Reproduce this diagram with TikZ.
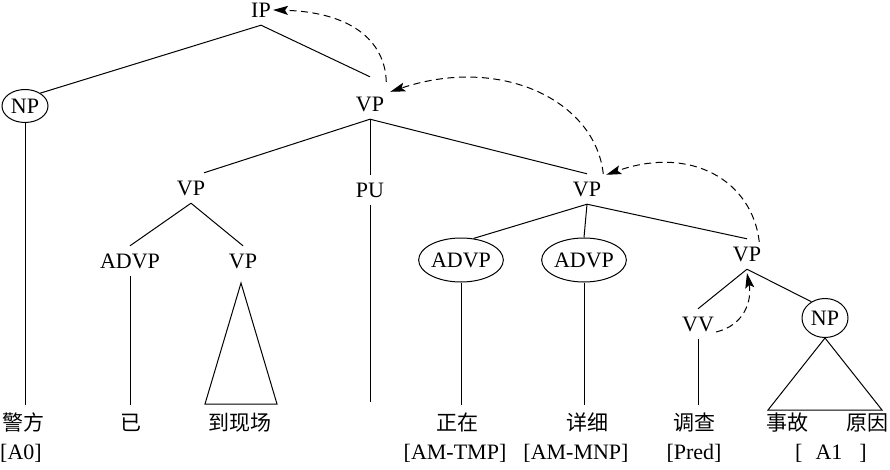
\documentclass[tikz,border=0pt]{standalone}
\usepackage{fontspec}
\setmainfont{Liberation Serif}
\newfontfamily\cjk{Noto Sans CJK SC}
\usetikzlibrary{arrows.meta,shapes.geometric}
\begin{document}
\begin{tikzpicture}[x=1pt,y=-1pt,
 cat/.style={font=\fontsize{22}{26}\selectfont, inner xsep=2pt, inner ysep=7.5pt, text height=15pt, text depth=0pt},
 ell/.style={ellipse, draw, line width=1pt, font=\fontsize{22}{26}\selectfont, inner sep=0pt, text height=15pt, text depth=0pt},
 word/.style={font=\cjk\fontsize{21}{25}\selectfont, inner xsep=0pt, inner ysep=9pt, text height=16pt, text depth=1pt},
 role/.style={font=\fontsize{22}{26}\selectfont, inner sep=0pt, text height=15pt, text depth=4pt},
 edge/.style={line width=1pt},
 mv/.style={line width=1pt, dash pattern=on 7pt off 4.5pt, -{Stealth[length=15pt,width=9pt,inset=3pt]}},
]
\useasboundingbox (0,0) rectangle (890,470);

% category nodes
\node[cat] (ip) at (261,10) {IP};
\node[ell, minimum width=46pt, minimum height=33pt] (np1) at (25,106) {NP};
\node[cat] (vp1) at (370,104) {VP};
\node[cat] (vpL) at (191,188) {VP};
\node[cat] (pu) at (370,190) {PU};
\node[cat] (vpR) at (587,189) {VP};
\node[cat] (advpL) at (130,261) {ADVP};
\node[cat] (vpL2) at (243,261) {VP};
\node[ell, minimum width=84pt, minimum height=44pt] (advp1) at (461,260) {ADVP};
\node[ell, minimum width=84pt, minimum height=44pt] (advp2) at (584,260) {ADVP};
\node[cat] (vp3) at (747,254) {VP};
\node[cat] (vv) at (698,324) {VV};
\node[ell, minimum width=46pt, minimum height=39pt] (np2) at (825,318) {NP};

% words
\node[word] (w1) at (23,423) {警方};
\node[word] (w2) at (131,423) {已};
\node[word] (w3) at (240,423) {到现场};
\node[word] (w4) at (457,423) {正在};
\node[word] (w5) at (587,423) {详细};
\node[word] (w6) at (694,423) {调查};
\node[word] (w7) at (787,423) {事故};
\node[word] (w8) at (867,423) {原因};

% roles
\node[role] (r1) at (21,454) {[A0]};
\node[role] (r4) at (455,454) {[AM-TMP]};
\node[role] (r5) at (576,454) {[AM-MNP]};
\node[role] (r6) at (694,454) {[Pred]};
\node[role] (r7) at (831,454) {[\hspace{13pt}A1\hspace{17pt}]};

\coordinate (puend) at (370,402);

% tree edges
\draw[edge] (ip.south) -- (np1.40);
\draw[edge] (ip.south) -- ([yshift=12pt]vp1.north);
\draw[edge] (vp1.south) -- ([xshift=13pt]vpL.north);
\draw[edge] (vp1.south) -- (pu.north);
\draw[edge] (vp1.south) -- (vpR.north);
\draw[edge] (vpL.south) -- (advpL.north);
\draw[edge] (vpL.south) -- (vpL2.north);
\draw[edge] (vpR.south) -- (advp1.60);
\draw[edge] (vpR.south) -- (advp2.north);
\draw[edge] (vpR.south) -- (vp3.north);
\draw[edge] (vp3.south) -- (vv.north);
\draw[edge] (vp3.south) -- (np2.130);

% leaf lines
\draw[edge] (np1.south) -- (np1.south |- w1.north);
\draw[edge] (advpL.south) -- (advpL.south |- w2.north);
\draw[edge] (pu.south) -- (puend);
\draw[edge] (advp1.south) -- (advp1.south |- w4.north);
\draw[edge] (advp2.south) -- (advp2.south |- w5.north);
\draw[edge] (vv.south) -- (vv.south |- w6.north);

% triangles
\draw[edge, line join=miter] (241,283) -- (277,404) -- (205,404) -- cycle;
\draw[edge, line join=miter] (np2.south) -- (882,410) -- (768,410) -- cycle;

% movement arrows
\draw[mv] ([yshift=7pt]vp1.north east) .. controls (385,40) and (350,12) .. (ip.east);
\draw[mv] (vpR.north east) .. controls (595,100) and (500,55) .. ([xshift=4pt,yshift=-3pt]vp1.north east);
\draw[mv] ([xshift=-4pt,yshift=-3pt]vp3.north east) .. controls (752,180) and (690,145) .. ([xshift=3pt,yshift=-1pt]vpR.north east);
\draw[mv] ([yshift=-8pt]vv.east) .. controls (745,325) and (752,300) .. ([yshift=-4pt]vp3.south);
\end{tikzpicture}
\end{document}
